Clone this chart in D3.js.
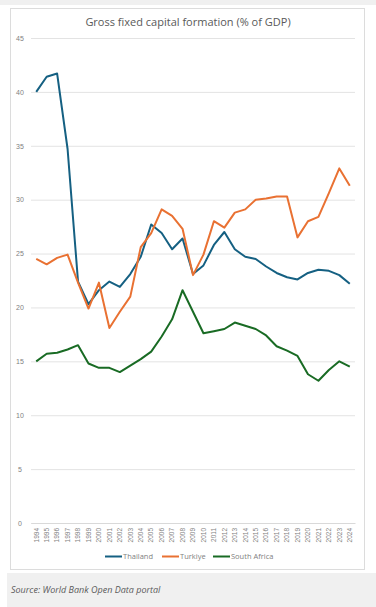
<!DOCTYPE html>
<html>
<head>
<meta charset="utf-8">
<script src="https://cdn.jsdelivr.net/npm/d3@7"></script>
<style>
 body { margin: 0; background: #fff; }
 svg { display: block; font-family: "Open Sans", "Liberation Sans", sans-serif; }
</style>
</head>
<body>
<div id="chart"></div>
<script>
// data
var years = d3.range(1994, 2025).map(String);
var yTicks = [0, 5, 10, 15, 20, 25, 30, 35, 40, 45];
var thailand = [40.0, 41.4, 41.7, 34.7, 22.4, 20.3, 21.6, 22.4, 21.9, 23.1, 24.7, 27.7, 26.9, 25.4, 26.4,
 23.1, 23.9, 25.8, 27.0, 25.4, 24.7, 24.5, 23.8, 23.2, 22.8, 22.6, 23.2, 23.5, 23.4, 23.0, 22.2];
var turkiye = [24.5, 24.0, 24.6, 24.9, 22.3, 19.9, 22.3, 18.1, 19.6, 21.0, 25.6, 26.9, 29.1, 28.5, 27.3,
 23.0, 24.9, 28.0, 27.4, 28.8, 29.1, 30.0, 30.1, 30.3, 30.3, 26.5, 28.0, 28.4, 30.6, 32.9, 31.3];
var southAfrica = [15.0, 15.7, 15.8, 16.1, 16.5, 14.8, 14.4, 14.4, 14.0, 14.6, 15.2, 15.9, 17.3, 18.9, 21.6,
 19.6, 17.6, 17.8, 18.0, 18.6, 18.3, 18.0, 17.4, 16.4, 16.0, 15.5, 13.8, 13.2, 14.2, 15.0, 14.5];
var seriesNames = ["Thailand", "Turkiye", "South Africa"];
var colors = ["#156082", "#E97132", "#196B24"];

var W = 376, H = 607;
var margin = {top: 38, right: 21, bottom: 84, left: 31},
 width = W - margin.left - margin.right,
 height = H - margin.top - margin.bottom;

var svg = d3.select("#chart")
 .append("svg")
 .attr("width", W)
 .attr("height", H);

// page framing
svg.append("rect").attr("x", 0).attr("y", 0).attr("width", W).attr("height", 5).attr("fill", "#f0f0f0");
svg.append("rect").attr("x", 10.5).attr("y", 8.5).attr("width", 354).attr("height", 561)
 .attr("fill", "#fff").attr("stroke", "#dcdcdc");
svg.append("rect").attr("x", 7).attr("y", 573).attr("width", W - 7).attr("height", H - 573).attr("fill", "#f0f0f0");
svg.append("text")
 .attr("x", 11).attr("y", 593)
 .attr("font-size", 9).attr("font-style", "italic").attr("fill", "#5a5a5a")
 .text("Source: World Bank Open Data portal");

svg.append("text")
 .attr("x", 188).attr("y", 26)
 .attr("text-anchor", "middle")
 .attr("font-size", 11).attr("fill", "#595959")
 .text("Gross fixed capital formation (% of GDP)");

var g = svg.append("g")
 .attr("transform", "translate(" + margin.left + "," + margin.top + ")");

var x = d3.scaleBand().domain(years).range([0, width]);
var y = d3.scaleLinear().domain([0, 45]).range([height, 0]);

// gridlines + y labels
var yAxis = g.append("g")
 .call(d3.axisLeft(y).tickValues(yTicks).tickSize(-width).tickPadding(9));
yAxis.select(".domain").remove();
yAxis.selectAll(".tick line").attr("stroke", "#e3e3e3");
yAxis.selectAll(".tick text").attr("fill", "#7f7f7f").attr("font-size", 7)
 .attr("text-anchor", "middle").attr("dx", -2);

// x labels
var xAxis = g.append("g")
 .attr("transform", "translate(0," + height + ")")
 .call(d3.axisBottom(x).tickSize(0));
xAxis.select(".domain").attr("stroke", "#d9d9d9");
xAxis.selectAll(".tick text")
 .attr("fill", "#7f7f7f").attr("font-size", 6.5)
 .attr("transform", "rotate(-90)")
 .attr("text-anchor", "end")
 .attr("x", -5).attr("y", 0).attr("dy", "0.35em");

var line = d3.line()
 .x(function(d, i) { return x(years[i]) + x.bandwidth() / 2; })
 .y(function(d) { return y(d); });

[thailand, turkiye, southAfrica].forEach(function(s, k) {
 g.append("path")
  .datum(s)
  .attr("fill", "none")
  .attr("stroke", colors[k])
  .attr("stroke-width", 2)
  .attr("stroke-linejoin", "round")
  .attr("d", line);
});

// legend
var legX = [105, 162, 213];
var leg = svg.append("g");
seriesNames.forEach(function(n, k) {
 leg.append("line")
  .attr("x1", legX[k]).attr("x2", legX[k] + 17)
  .attr("y1", 556.5).attr("y2", 556.5)
  .attr("stroke", colors[k]).attr("stroke-width", 2);
 leg.append("text")
  .attr("x", legX[k] + 18).attr("y", 559)
  .attr("font-size", 7.5).attr("fill", "#7f7f7f")
  .text(n);
});
</script>
</body>
</html>
